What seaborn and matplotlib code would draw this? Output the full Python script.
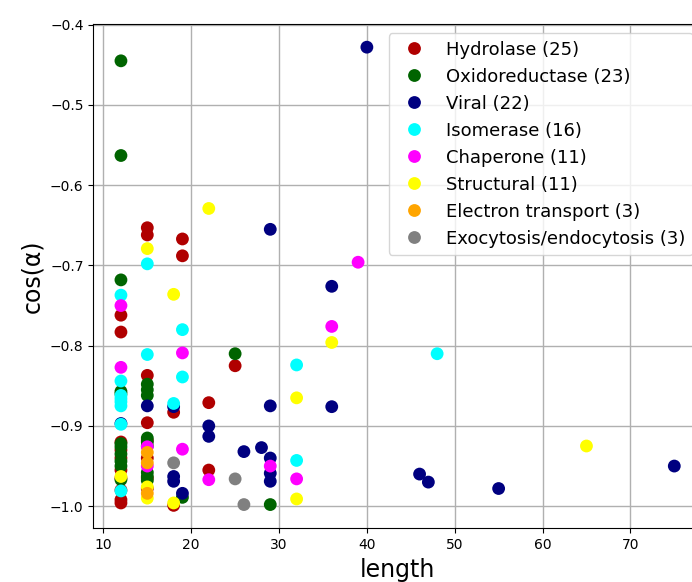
import matplotlib
matplotlib.use("Agg")
import matplotlib.pyplot as plt
import pandas as pd
import seaborn as sns

# Peptide length vs. cos(alpha), grouped by protein class
hydrolase_len = [12, 12, 12, 12, 12, 12, 15, 15, 15, 15, 18, 18, 19, 19, 22, 22, 25,
                 12, 12, 12, 12, 15, 15, 15, 15]
hydrolase_cos = [-0.762, -0.783, -0.930, -0.955, -0.992, -0.996, -0.653, -0.662, -0.837,
                 -0.896, -0.883, -0.999, -0.667, -0.688, -0.871, -0.955, -0.825,
                 -0.920, -0.940, -0.965, -0.980, -0.918, -0.940, -0.965, -0.978]

oxido_len = [12, 12, 12, 12, 12, 12, 12, 12, 15, 15, 15, 15, 15, 15, 19, 25, 29,
             12, 12, 12, 15, 15, 15]
oxido_cos = [-0.445, -0.563, -0.718, -0.857, -0.922, -0.926, -0.944, -0.967,
             -0.848, -0.862, -0.915, -0.920, -0.963, -0.968, -0.989, -0.810, -0.998,
             -0.860, -0.935, -0.950, -0.855, -0.925, -0.958]

viral_len = [12, 15, 18, 18, 18, 19, 22, 22, 26, 28, 29, 29, 29, 29, 29,
             36, 36, 40, 46, 47, 55, 75]
viral_cos = [-0.897, -0.875, -0.876, -0.963, -0.969, -0.984, -0.900, -0.913, -0.932,
             -0.927, -0.655, -0.875, -0.940, -0.959, -0.969, -0.726, -0.876, -0.428,
             -0.960, -0.970, -0.978, -0.950]

isomerase_len = [12, 12, 12, 12, 12, 12, 12, 12, 15, 15, 18, 19, 19, 32, 32, 48]
isomerase_cos = [-0.737, -0.844, -0.862, -0.866, -0.870, -0.875, -0.898, -0.981,
                 -0.698, -0.811, -0.872, -0.780, -0.839, -0.824, -0.943, -0.810]

chaperone_len = [12, 12, 15, 15, 19, 19, 22, 29, 32, 36, 39]
chaperone_cos = [-0.750, -0.827, -0.926, -0.950, -0.809, -0.929, -0.967, -0.950,
                 -0.966, -0.776, -0.696]

structural_len = [12, 15, 15, 15, 18, 18, 22, 32, 32, 36, 65]
structural_cos = [-0.963, -0.679, -0.976, -0.990, -0.736, -0.996, -0.629, -0.865,
                  -0.991, -0.796, -0.925]

electron_len = [15, 15, 15]
electron_cos = [-0.933, -0.946, -0.984]

exo_len = [18, 25, 26]
exo_cos = [-0.946, -0.966, -0.998]

class_names = ["Hydrolase", "Oxidoreductase", "Viral", "Isomerase", "Chaperone",
               "Structural", "Electron transport", "Exocytosis/endocytosis"]
class_colors = ["#b00000", "#006400", "#000080", "#00ffff", "#ff00ff",
                "#ffff00", "#ffa500", "#808080"]
class_data = [(hydrolase_len, hydrolase_cos), (oxido_len, oxido_cos),
              (viral_len, viral_cos), (isomerase_len, isomerase_cos),
              (chaperone_len, chaperone_cos), (structural_len, structural_cos),
              (electron_len, electron_cos), (exo_len, exo_cos)]

rows = []
labels = []
for name, (lens, coss) in zip(class_names, class_data):
    label = f"{name} ({len(lens)})"
    labels.append(label)
    for L, c in zip(lens, coss):
        rows.append({"length": L, "cos": c, "class": label})
df = pd.DataFrame(rows)

fig = plt.figure(figsize=(6.92, 5.82), dpi=100)
ax = fig.add_axes([0.1348, 0.0923, 0.8796, 0.8660])
ax.set_axisbelow(True)
ax.grid(True, color="#b0b0b0", linewidth=1.0)

sns.scatterplot(data=df, x="length", y="cos", hue="class", hue_order=labels,
                palette=dict(zip(labels, class_colors)), s=85, linewidth=0,
                alpha=1.0, ax=ax)

ax.set_xlabel("length", fontsize=17)
ax.set_ylabel("cos(α)", fontsize=17)
ax.tick_params(labelsize=10)
ax.set_yticks([-1.0, -0.9, -0.8, -0.7, -0.6, -0.5, -0.4])
ax.set_xticks([10, 20, 30, 40, 50, 60, 70])

leg = ax.legend(loc="upper right", fontsize=13, title=None, markerscale=1.0,
                labelspacing=0.5, borderaxespad=0.5)

fig.savefig("out.png", dpi=100)
